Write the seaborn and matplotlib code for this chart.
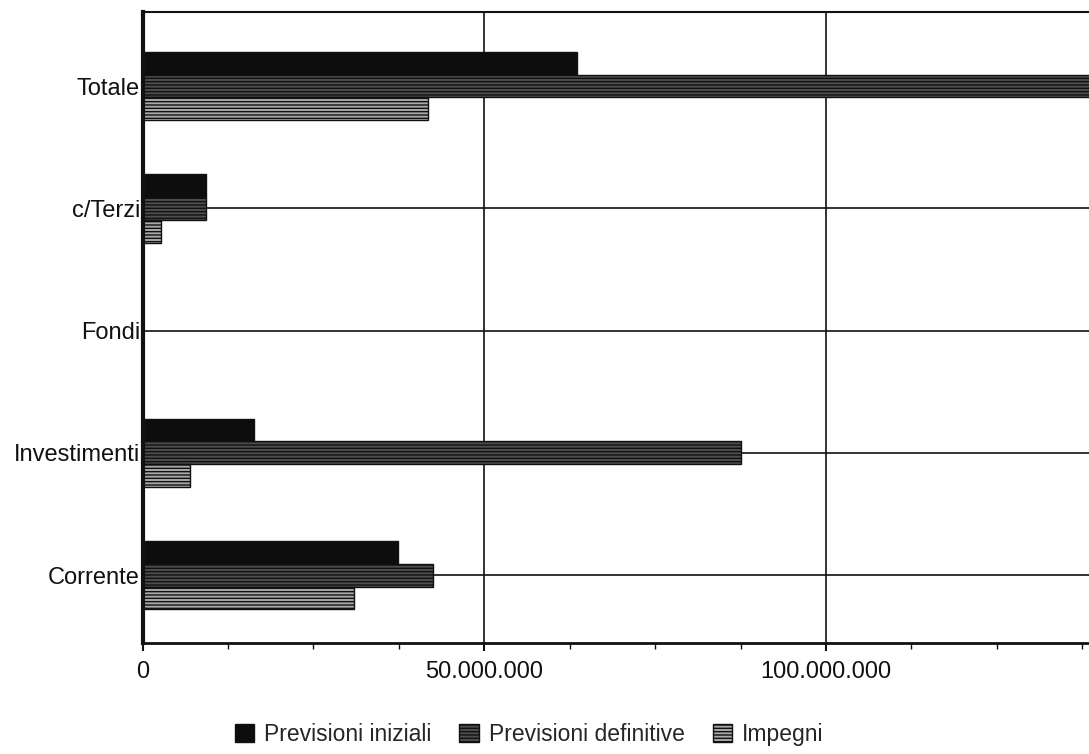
"""Previsioni vs impegni per titolo di spesa - barre orizzontali."""

import matplotlib
matplotlib.use("Agg")
import matplotlib.pyplot as plt
import matplotlib.ticker as mticker
from matplotlib.patches import Patch
import numpy as np
import pandas as pd
import seaborn as sns

categories = ["Totale", "c/Terzi", "Fondi", "Investimenti", "Corrente"]
series = ["Previsioni iniziali", "Previsioni definitive", "Impegni"]
previsioni_iniziali = [63_500_000, 9_300_000, 0, 16_300_000, 37_300_000]
previsioni_definitive = [139_500_000, 9_300_000, 0, 87_600_000, 42_500_000]
impegni = [41_700_000, 2_700_000, 0, 7_000_000, 31_000_000]
x_ticks = [0, 50_000_000, 100_000_000]
x_ticklabels = ["0", "50.000.000", "100.000.000"]

df = pd.DataFrame({
    "categoria": categories * 3,
    "serie": np.repeat(series, len(categories)),
    "valore": previsioni_iniziali + previsioni_definitive + impegni,
})

sns.set_theme(style="white")
plt.rcParams["font.family"] = ["Liberation Sans", "DejaVu Sans"]
plt.rcParams["hatch.color"] = "#1a1a1a"

styles = {
    "Previsioni iniziali": dict(face="#0d0d0d", hatch=None),
    "Previsioni definitive": dict(face="#4d4d4d", hatch="-----"),
    "Impegni": dict(face="#a8a8a8", hatch="-----"),
}
palette = {k: v["face"] for k, v in styles.items()}

fig = plt.figure(figsize=(10.89, 7.54), dpi=100)
ax = fig.add_axes([0.131, 0.147, 0.869, 0.837])

sns.barplot(data=df, y="categoria", x="valore", hue="serie", order=categories,
            hue_order=series, palette=palette, orient="h", width=0.56,
            dodge=True, legend=False, saturation=1, ax=ax)

for container, name in zip(ax.containers, series):
    for bar in container:
        bar.set_edgecolor("#111111")
        bar.set_linewidth(1.0)
        if styles[name]["hatch"]:
            bar.set_hatch(styles[name]["hatch"])

ax.set_xlim(0, 138_500_000)
ax.set_ylim(4.556, -0.605)
ax.set_xticks(x_ticks)
ax.set_xticklabels(x_ticklabels, fontsize=17)
ax.xaxis.set_minor_locator(mticker.MultipleLocator(12_500_000))
ax.tick_params(axis="x", which="major", direction="out", length=6, width=1.5,
               pad=7, bottom=True, colors="#111111")
ax.tick_params(axis="x", which="minor", direction="out", length=4, width=1,
               bottom=True, color="#111111")
ax.tick_params(axis="y", length=0, pad=2, labelsize=17, colors="#111111")
ax.set_xlabel("")
ax.set_ylabel("")

# griglia: verticali ai tick principali, orizzontali al centro delle categorie
for xv in x_ticks[1:]:
    ax.axvline(xv, color="#111111", lw=1.2, zorder=0)
for yv in range(len(categories)):
    ax.axhline(yv, color="#111111", lw=1.2, zorder=0)

for side in ["left", "bottom", "top"]:
    ax.spines[side].set_visible(True)
    ax.spines[side].set_color("#111111")
ax.spines["left"].set_linewidth(3)
ax.spines["bottom"].set_linewidth(2)
ax.spines["top"].set_linewidth(1.5)
ax.spines["right"].set_visible(False)

handles = [Patch(facecolor=styles[s]["face"], edgecolor="#111111",
                 hatch=styles[s]["hatch"], label=s) for s in series]
fig.legend(handles=handles, loc="center", bbox_to_anchor=(0.486, 0.026),
           ncol=3, frameon=False, fontsize=16.5, handlelength=0.85,
           handleheight=0.85, handletextpad=0.45, columnspacing=1.2,
           borderpad=0)

fig.savefig("out.png", dpi=100)
plt.close(fig)
